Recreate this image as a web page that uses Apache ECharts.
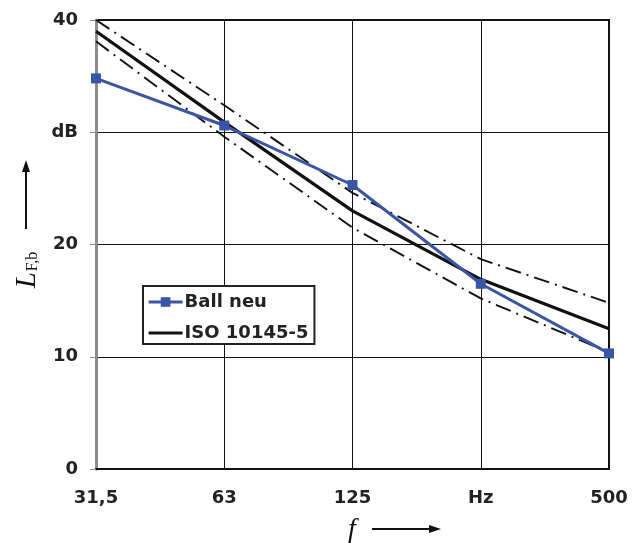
<!DOCTYPE html>
<html><head><meta charset="utf-8">
<script src="https://cdn.jsdelivr.net/npm/echarts@6/dist/echarts.min.js"></script>
<style>html,body{margin:0;padding:0;background:#fff}#c{width:640px;height:543px}</style>
</head><body><div id="c"></div>
<script>
var categories = ['31,5', '63', '125', '250', '500'];
var yTickLabels = {0: '0', 10: '10', 20: '20', 30: 'dB', 40: '40'};
var xTickLabels = {'250': 'Hz'};
var ballNeu = [34.8, 30.6, 25.3, 16.5, 10.3];
var iso = [39.0, 30.9, 23.0, 16.9, 12.5];
var isoUpper = [40.0, 32.4, 24.6, 18.7, 14.8];
var isoLower = [38.1, 29.6, 21.5, 15.2, 10.4];

var chart = echarts.init(document.getElementById('c'), null, {renderer: 'canvas'});
var sans = '"DejaVu Sans", Arial, sans-serif';
var serif = '"Liberation Serif", "Times New Roman", serif';
var dashDot = [16, 6, 2, 6];

chart.setOption({
  animation: false,
  backgroundColor: '#fff',
  grid: {left: 96, right: 31, top: 20, bottom: 74, show: true, borderColor: '#111', borderWidth: 2, backgroundColor: 'transparent'},
  legend: {
    data: [
      {name: 'Ball neu', lineStyle: {width: 3}},
      {name: 'ISO 10145-5', itemStyle: {color: 'rgba(0,0,0,0)', borderWidth: 0}, lineStyle: {width: 3.2, color: '#111'}}
    ],
    orient: 'vertical', left: 143, top: 286,
    backgroundColor: '#fff', borderColor: '#222', borderWidth: 2,
    padding: [5, 6, 0, 4], itemGap: 9, itemWidth: 34, itemHeight: 12,
    textStyle: {fontFamily: sans, fontWeight: 'bold', fontSize: 18, color: '#222', padding: [0, 0, 0, -3], lineHeight: 22}
  },
  xAxis: {
    type: 'category', data: categories, boundaryGap: false,
    axisLine: {lineStyle: {color: '#111', width: 2}},
    axisTick: {show: false},
    axisLabel: {fontFamily: sans, fontWeight: 'bold', fontSize: 18, color: '#222', margin: 20,
      formatter: function (v) { return xTickLabels[v] || v; }},
    splitLine: {show: true, lineStyle: {color: '#111', width: 1}}
  },
  yAxis: {
    type: 'value', min: 0, max: 40, interval: 10,
    axisLine: {show: true, lineStyle: {color: '#8c8c8c', width: 3}},
    axisTick: {show: true, length: 6, lineStyle: {color: '#8c8c8c', width: 1}},
    axisLabel: {fontFamily: sans, fontWeight: 'bold', fontSize: 18, color: '#222', margin: 18,
      formatter: function (v) { return yTickLabels[v]; }},
    splitLine: {show: true, lineStyle: {color: '#111', width: 1}}
  },
  series: [
    {name: 'upper', type: 'line', data: isoUpper, symbol: 'none', silent: true,
      lineStyle: {color: '#111', width: 1.9, type: dashDot}, z: 2},
    {name: 'lower', type: 'line', data: isoLower, symbol: 'none', silent: true,
      lineStyle: {color: '#111', width: 1.9, type: dashDot}, z: 2},
    {name: 'ISO 10145-5', type: 'line', data: iso, symbol: 'none',
      itemStyle: {color: '#111'}, lineStyle: {color: '#111', width: 3.2}, z: 3},
    {name: 'Ball neu', type: 'line', data: ballNeu, symbol: 'rect', symbolSize: 10, showSymbol: true,
      itemStyle: {color: '#3a55a6'}, lineStyle: {color: '#3a55a6', width: 3}, z: 4}
  ],
  graphic: [
    {type: 'text', x: 352, y: 530, style: {text: 'f', font: 'italic 28px ' + serif, fill: '#111', align: 'center', verticalAlign: 'middle'}},
    {type: 'line', shape: {x1: 372, y1: 529, x2: 431, y2: 529}, style: {stroke: '#111', lineWidth: 2}},
    {type: 'polygon', shape: {points: [[441, 529], [429, 525], [429, 533]]}, style: {fill: '#111'}},
    {type: 'text', x: 27, y: 270, rotation: Math.PI / 2,
      style: {text: '{L|L}{s|F,b}', align: 'center', verticalAlign: 'middle', fill: '#111',
        rich: {L: {font: 'italic 29px ' + serif, fill: '#111'},
               s: {font: '16px ' + serif, fill: '#111', padding: [11, 0, 0, 1]}}}},
    {type: 'line', shape: {x1: 26, y1: 229, x2: 26, y2: 170}, style: {stroke: '#111', lineWidth: 2}},
    {type: 'polygon', shape: {points: [[26, 160], [22, 172], [30, 172]]}, style: {fill: '#111'}}
  ]
});
</script></body></html>
